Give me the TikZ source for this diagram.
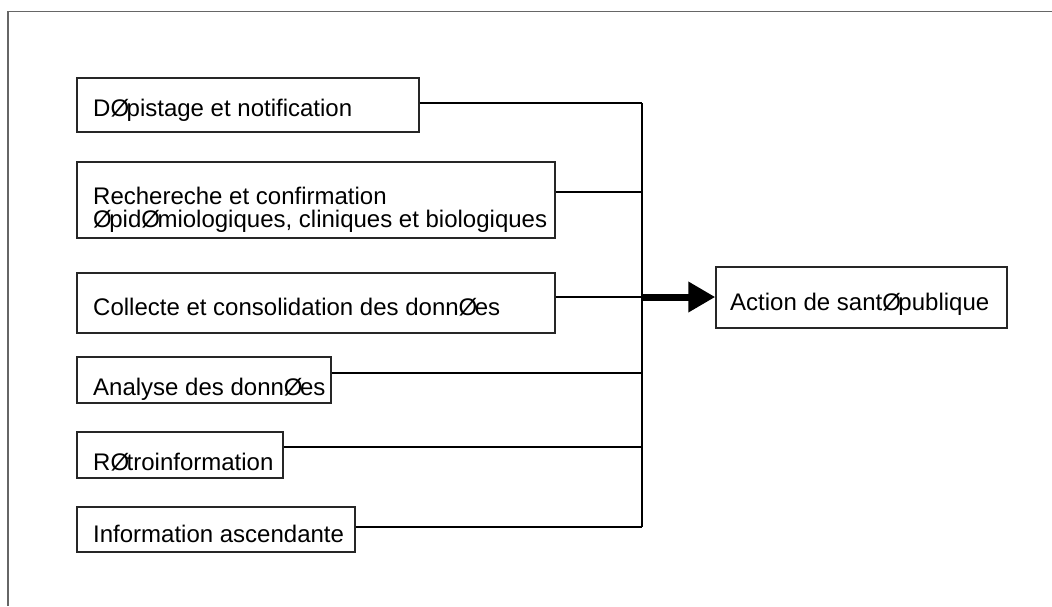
\documentclass[tikz,border=0pt]{standalone}
\usepackage{fontspec}
\setmainfont{Liberation Sans}
\usetikzlibrary{arrows.meta}
\definecolor{framegray}{rgb}{0.40,0.40,0.40}
\newcommand{\Oslash}{Ø\kern-2.5pt}
\begin{document}
\begin{tikzpicture}[x=1pt,y=-1pt,
  boxst/.style={draw=black!85, line width=1.4pt, fill=white, inner sep=0pt, minimum width=#1},
  lbl/.style={inner sep=0pt, anchor=base west, font=\fontsize{24}{23}\selectfont},
  conn/.style={line width=2.5pt, black},
  framest/.style={draw=framegray, line width=1.8pt}]
\useasboundingbox (0,0) rectangle (1052,606);
\draw[framest] (8,606) -- (8,11.5) -- (1052,11.5);
% boxes
\node[boxst=342pt, minimum height=54pt] (b1) at (248,105) {};
\node[boxst=478pt, minimum height=76pt] (b2) at (316,200) {};
\node[boxst=478pt, minimum height=60pt] (b3) at (316,303) {};
\node[boxst=254pt, minimum height=46pt] (b4) at (204,380) {};
\node[boxst=206pt, minimum height=46pt] (b5) at (180,455) {};
\node[boxst=278pt, minimum height=45pt] (b6) at (216,529.5) {};
\node[boxst=291pt, minimum height=61pt] (act) at (861.5,297.5) {};
% labels
\node[lbl] (t1) at (93,116) {D\Oslash pistage et notification};
\node[lbl] (t2a) at (93,204) {Rechereche et confirmation};
\node[lbl] (t2b) at (93,227) {\Oslash pid\Oslash miologiques, cliniques et biologiques};
\node[lbl] (t3) at (93,315) {Collecte et consolidation des donn\Oslash es};
\node[lbl] (t4) at (93,395) {Analyse des donn\Oslash es};
\node[lbl] (t5) at (93,470) {R\Oslash troinformation};
\node[lbl] (t6) at (93,542) {Information ascendante};
\node[lbl] (ta) at (730,310) {Action de sant\Oslash publique};
% spine coordinates
\coordinate (s1) at (642,103);
\coordinate (s2) at (642,192);
\coordinate (s3) at (642,297);
\coordinate (s4) at (642,373);
\coordinate (s5) at (642,447);
\coordinate (s6) at (642,527);
\draw[conn] (s1) -- (s6);
\draw[conn] (b1.east |- s1) -- (s1);
\draw[conn] (b2.east |- s2) -- (s2);
\draw[conn] (b3.east |- s3) -- (s3);
\draw[conn] (b4.east |- s4) -- (s4);
\draw[conn] (b5.east |- s5) -- (s5);
\draw[conn] (b6.east |- s6) -- (s6);
\draw[line width=7pt, -{Triangle[length=27pt,width=29pt]}] (s3) -- (act.west |- s3);
\end{tikzpicture}
\end{document}
